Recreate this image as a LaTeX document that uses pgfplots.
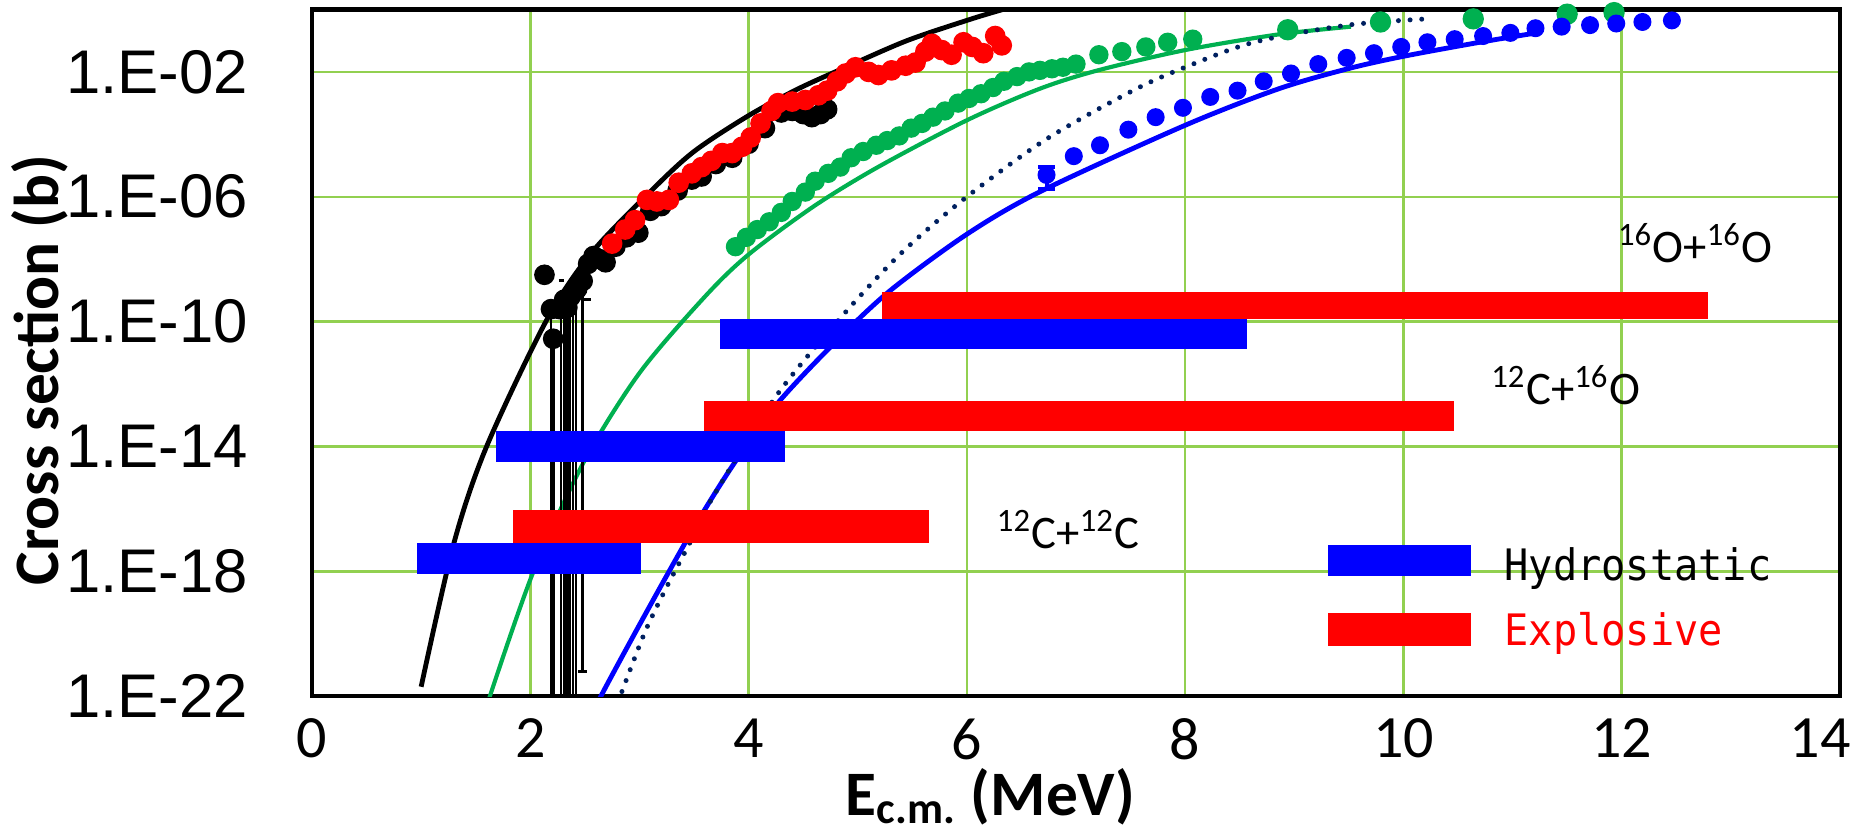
\documentclass[border=0pt]{standalone}
\usepackage{fontspec}
\setmainfont{Carlito}
\newfontfamily\arialfont{Liberation Sans}
\newfontfamily\gothicfont[FakeStretch=0.93]{DejaVu Sans Mono}
\usepackage{pgfplots}
\pgfplotsset{compat=1.18}
\definecolor{exgreen}{HTML}{00B050}
\definecolor{gridgreen}{HTML}{92D050}
\definecolor{navy}{HTML}{002060}
\pgfplotsset{bar/.style={draw=none, fill=#1}}

\begin{document}
\begin{tikzpicture}
\useasboundingbox (-93.6pt,-42pt) rectangle (464.4pt,208.85pt);
\begin{axis}[
  scale only axis, width=458.4pt, height=206pt,
  xmin=0, xmax=14, ymode=log, ymin=1e-22, ymax=1,
  xtick={0,2,4,6,8,10,12,14},
  xticklabels={0,2,4,6,8,10,12,\hspace*{-12pt}14},
  ytick={1e-22,1e-18,1e-14,1e-10,1e-6,1e-2},
  yticklabels={1.E-22,1.E-18,1.E-14,1.E-10,1.E-06,1.E-02},
  minor ytick={},
  major tick length=0pt, minor tick length=0pt,
  grid=major, major grid style={draw=gridgreen, line width=0.75pt},
  axis line style={line width=1.3pt, black},
  xticklabel style={font=\fontsize{18}{20}\selectfont, anchor=north, inner sep=0pt, yshift=-6.6pt},
  yticklabel style={font=\arialfont\fontsize{18.5}{21}\selectfont, anchor=east, inner sep=0pt, xshift=-19pt},
  xlabel={E\textsubscript{c.m.} (MeV)},
  ylabel={Cross section (b)},
  xlabel style={font=\bfseries\fontsize{19}{22}\selectfont, at={(axis description cs:0.444,0)}, anchor=base, inner sep=0pt, yshift=-35.7pt},
  ylabel style={font=\bfseries\fontsize{19}{22}\selectfont, at={(axis description cs:-0.1656,0.475)}, anchor=base, inner sep=0pt},
]

% model curves
\addplot[black, line width=1.45pt, smooth] coordinates {
 (1.0,2.0e-22)(1.3,7.94e-18)(1.6,1e-14)(2.15,1.12e-10)(2.56,1.58e-8)(3.11,1.58e-6)
 (3.5,2.82e-5)(4.0,3.98e-4)(4.45,2.82e-3)(4.89,1.41e-2)(5.45,0.1)(6.0,0.447)
 (6.33,1.0)(6.6,1.78)};
\addplot[exgreen, line width=1.25pt, smooth] coordinates {
 (1.6,3.16e-23)(1.63,1e-22)(2.03,1e-18)(2.49,3.16e-15)(3.0,2.24e-12)(3.6,6.31e-10)
 (4.0,1.41e-8)(4.6,5.01e-7)(5.19,9.12e-6)(6.0,2.82e-4)(6.66,2.82e-3)(7.2,1.12e-2)
 (8.0,5.01e-2)(8.85,0.158)(9.52,0.282)};
\addplot[blue, line width=1.45pt, smooth] coordinates {
 (2.6,3.16e-23)(2.64,8.91e-23)(3.05,3.98e-20)(3.5,2.51e-17)(3.87,2.95e-15)(4.27,2.51e-13)
 (4.81,2.51e-11)(5.3,1e-9)(6.0,6.31e-8)(6.68,1.51e-6)(8.0,1.95e-4)(8.85,2.82e-3)
 (9.49,1.26e-2)(10.0,3.16e-2)(10.7,8.91e-2)(11.22,0.178)};
\addplot[navy, line width=1.5pt, line cap=round, dash pattern=on 0pt off 3.5pt, smooth] coordinates {
 (2.84,1.41e-22)(3.05,1.12e-20)(3.25,3.16e-19)(3.46,7.94e-18)(3.66,2.0e-16)(4.25,3.98e-13)
 (4.85,1.41e-10)(5.4,1.58e-8)(6.0,1e-6)(6.73,7.08e-5)(7.52,2.51e-3)(8.0,1.41e-2)
 (8.63,8.91e-2)(9.49,0.316)(10.22,0.501)};

% error bars of the low-energy 12C+12C points
\addplot[black, line width=0.8pt, unbounded coords=jump] coordinates {
 (2.19,2.51e-10)(2.19,1e-23)(2.19,nan)
 (2.21,2.82e-11)(2.21,1e-23)(2.21,nan)
 (2.28,2.51e-10)(2.28,1e-23)(2.28,nan)
 (2.31,5.01e-10)(2.31,1e-23)(2.31,nan)
 (2.33,2.82e-10)(2.33,1e-23)(2.33,nan)
 (2.36,6.31e-10)(2.36,1e-23)(2.36,nan)
 (2.39,8.91e-10)(2.39,1e-23)(2.39,nan)
 (2.42,1.12e-9)(2.42,1e-23)(2.42,nan)
 (2.48,2.0e-9)(2.48,6.31e-22)(2.48,nan)
 (2.44,6.31e-22)(2.52,6.31e-22)(2.52,nan)
 (2.26,2.04e-9)(2.31,2.04e-9)(2.31,nan)
 (2.47,5.01e-10)(2.56,5.01e-10)};

% data points
\addplot[only marks, mark=*, mark size=2.9pt, mark options={draw=black, fill=black}] coordinates {
 (2.13,3.16e-9)(2.19,2.51e-10)(2.21,2.82e-11)(2.27,2.51e-10)(2.31,5.01e-10)(2.34,2.82e-10)
 (2.37,6.31e-10)(2.40,8.91e-10)(2.43,1.12e-9)(2.48,2.0e-9)(2.53,7.08e-9)(2.58,1.26e-8)
 (2.64,1e-8)(2.69,7.94e-9)(2.78,2.51e-8)(2.88,5.01e-8)(2.99,7.08e-8)(3.1,3.55e-7)
 (3.2,5.01e-7)(3.35,1.58e-6)(3.48,3.55e-6)(3.57,4.47e-6)(3.7,1.12e-5)(3.85,1.78e-5)
 (4.0,5.01e-5)(4.15,1.58e-4)(4.3,5.01e-4)(4.40,5.62e-4)(4.5,4.47e-4)(4.58,3.55e-4)
 (4.66,4.47e-4)(4.72,6.31e-4)};
\addplot[only marks, mark=*, mark size=2.9pt, mark options={draw=red, fill=red}] coordinates {
 (2.75,3.16e-8)(2.87,8.91e-8)(2.96,1.78e-7)(3.07,7.94e-7)(3.16,7.08e-7)(3.27,7.94e-7)
 (3.36,2.82e-6)(3.48,5.62e-6)(3.57,8.91e-6)(3.66,1.41e-5)(3.76,2.51e-5)(3.85,2.51e-5)
 (3.94,3.98e-5)(4.02,7.94e-5)(4.11,2.24e-4)(4.21,5.62e-4)(4.27,1e-3)(4.40,1.12e-3)
 (4.52,1.26e-3)(4.64,1.78e-3)(4.72,2.51e-3)(4.81,5.01e-3)(4.89,8.91e-3)(4.98,1.41e-2)
 (5.10,1e-2)(5.19,7.94e-3)(5.31,1.12e-2)(5.44,1.58e-2)(5.53,2.0e-2)(5.62,4.47e-2)
 (5.68,7.94e-2)(5.77,5.01e-2)(5.86,3.55e-2)(5.97,8.91e-2)(6.05,6.31e-2)(6.15,3.98e-2)
 (6.26,0.141)(6.32,7.08e-2)};
\addplot[only marks, mark=*, mark size=2.7pt, mark options={draw=exgreen, fill=exgreen}] coordinates {
 (3.88,2.51e-8)(3.98,5.01e-8)(4.08,8.91e-8)(4.19,1.58e-7)(4.30,3.16e-7)(4.40,7.08e-7)
 (4.52,1.41e-6)(4.61,3.16e-6)(4.73,5.62e-6)(4.84,8.91e-6)(4.94,1.78e-5)(5.05,2.82e-5)
 (5.17,4.47e-5)(5.27,6.31e-5)(5.38,8.91e-5)(5.49,1.58e-4)(5.59,2.24e-4)(5.69,3.55e-4)
 (5.80,5.62e-4)(5.92,1e-3)(6.02,1.41e-3)(6.13,2.0e-3)(6.24,3.16e-3)(6.34,5.01e-3)
 (6.46,7.08e-3)(6.57,1e-2)(6.67,1.12e-2)(6.78,1.26e-2)(6.88,1.41e-2)(7.0,1.78e-2)
 (7.21,3.55e-2)(7.42,4.47e-2)(7.64,6.31e-2)(7.84,8.91e-2)(8.07,0.112)};
\addplot[only marks, mark=*, mark size=3.0pt, mark options={draw=exgreen, fill=exgreen}] coordinates {
 (8.94,0.224)(9.79,0.398)(10.64,0.501)(11.5,0.708)(11.93,0.794)};
\addplot[only marks, mark=*, mark size=2.5pt, mark options={draw=blue, fill=blue}] coordinates {
 (6.98,2.0e-5)(7.22,4.47e-5)(7.48,1.41e-4)(7.73,3.55e-4)(7.98,7.08e-4)(8.23,1.58e-3)
 (8.48,2.51e-3)(8.72,5.01e-3)(8.97,8.91e-3)(9.22,1.78e-2)(9.48,2.82e-2)(9.73,3.98e-2)
 (9.98,6.31e-2)(10.22,8.91e-2)(10.47,0.112)(10.73,0.141)(10.98,0.178)(11.21,0.251)
 (11.45,0.282)(11.71,0.316)(11.95,0.355)(12.19,0.398)(12.46,0.447)};
\addplot[only marks, mark=*, mark size=2.5pt, mark options={draw=blue, fill=blue},
  error bars/.cd, y dir=both, y explicit,
  error bar style={blue, line width=1.2pt},
  error mark options={rotate=90, mark size=2.6pt, line width=1.2pt, blue}]
  coordinates {(6.73,5.01e-6) += (0,3.9e-6) -= (0,3.23e-6)};

% temperature ranges: hydrostatic (blue) and explosive (red)
\addplot[bar=blue] coordinates {(0.96,7.94e-19)(3.01,7.94e-19)(3.01,8.32e-18)(0.96,8.32e-18)};
\addplot[bar=red] coordinates {(1.84,8.32e-18)(5.65,8.32e-18)(5.65,8.91e-17)(1.84,8.91e-17)};
\addplot[bar=blue] coordinates {(1.69,3.16e-15)(4.33,3.16e-15)(4.33,3.16e-14)(1.69,3.16e-14)};
\addplot[bar=red] coordinates {(3.59,3.16e-14)(10.46,3.16e-14)(10.46,2.82e-13)(3.59,2.82e-13)};
\addplot[bar=blue] coordinates {(3.74,1.35e-11)(8.57,1.35e-11)(8.57,1.2e-10)(3.74,1.2e-10)};
\addplot[bar=red] coordinates {(5.22,1.2e-10)(12.79,1.2e-10)(12.79,8.71e-10)(5.22,8.71e-10)};
% legend keys
\addplot[bar=blue] coordinates {(9.31,6.92e-19)(10.62,6.92e-19)(10.62,7.08e-18)(9.31,7.08e-18)};
\addplot[bar=red] coordinates {(9.31,4.17e-21)(10.62,4.17e-21)(10.62,4.68e-20)(9.31,4.68e-20)};

\node[anchor=base west, inner sep=0pt, font=\gothicfont\fontsize{13}{15}\selectfont] at (axis cs:10.92,4.9e-19) {Hydrostatic};
\node[anchor=base west, inner sep=0pt, text=red, font=\gothicfont\fontsize{13}{15}\selectfont] at (axis cs:10.92,4.27e-21) {Explosive};

\node[anchor=base west, inner sep=0pt, font=\fontsize{14}{16}\selectfont] at (axis cs:11.96,7.76e-9) {\textsuperscript{16}O+\textsuperscript{16}O};
\node[anchor=base west, inner sep=0pt, font=\fontsize{14}{16}\selectfont] at (axis cs:10.8,2.19e-13) {\textsuperscript{12}C+\textsuperscript{16}O};
\node[anchor=base west, inner sep=0pt, font=\fontsize{14}{16}\selectfont] at (axis cs:6.27,5.37e-18) {\textsuperscript{12}C+\textsuperscript{12}C};
\end{axis}
\end{tikzpicture}
\end{document}
